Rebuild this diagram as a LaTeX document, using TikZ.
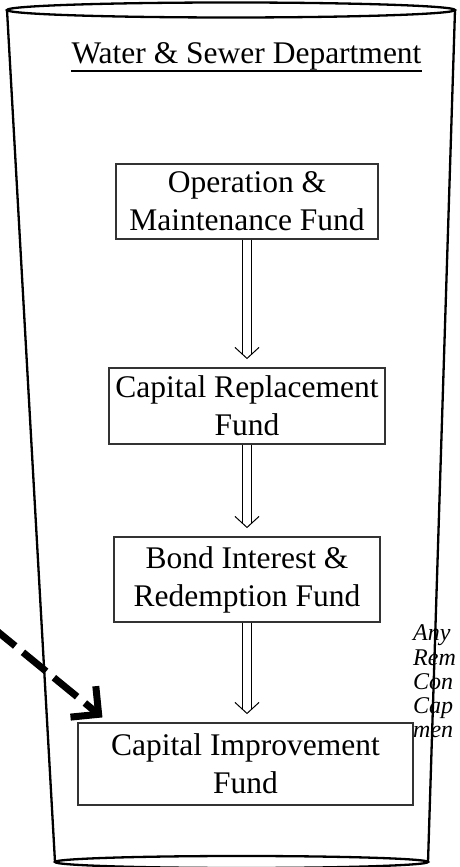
\documentclass[tikz,border=0pt]{standalone}
\usepackage{fontspec}
\setmainfont{Liberation Serif}
\usetikzlibrary{arrows.meta,calc,positioning}

\tikzset{
  fundbox/.style={draw=black!80, line width=1.1pt, minimum height=75pt, align=center,
    inner sep=0pt, font=\fontsize{31.5}{38}\selectfont},
  flowline/.style={line width=1pt},
  cupline/.style={line width=2.3pt},
}

\begin{document}
\begin{tikzpicture}[x=1pt, y=1pt]
    \useasboundingbox (0,0) rectangle (459,867);

    % Cup outline
    \draw[cupline] (231,857) ellipse [x radius=224, y radius=7.5];
    \draw[cupline] (7,857) -- (55,5);
    \draw[cupline] (455,857) -- (428,5);
    \draw[cupline] (241.5,5) ellipse [x radius=186.5, y radius=6];

    % Title
    \node[inner sep=0pt, anchor=base, font=\fontsize{31.5}{38}\selectfont] (title) at (246.5,803) {Water \& Sewer Department};
    \draw[line width=1.4pt] (title.south west) -- (title.south east);

    % Funds
    \node[fundbox, minimum width=262] (om) at (247,665.5) {Operation \&\\Maintenance Fund};
    \node[fundbox, minimum width=276, minimum height=76] (cr) at (247,461) {Capital Replacement\\Fund};
    \node[fundbox, minimum width=266, minimum height=85] (bi) at (247,287.5) {Bond Interest \&\\Redemption Fund};
    \node[fundbox, minimum width=335, minimum height=82] (ci) at (245.5,103) {Capital Improvement\\Fund};

    % Flow between funds
    \foreach \a/\b in {om/cr, cr/bi, bi/ci} {
        \draw[flowline] ($(\a.south)+(-4.5,0)$) -- ($(\a.south |- \b.north)+(-4.5,13)$);
        \draw[flowline] ($(\a.south)+(4.5,0)$) -- ($(\a.south |- \b.north)+(4.5,13)$);
        \draw[flowline] ($(\a.south |- \b.north)+(-12,20)$) -- ($(\a.south |- \b.north)+(0,9)$) -- ($(\a.south |- \b.north)+(12,20)$);
    }

    % Transfer into capital improvement
    \coordinate (feed) at (-8,240);
    \draw[line width=7pt, dash pattern=on 30pt off 10pt, -{Straight Barb[length=20pt, width=40pt, sharp]}] (feed) -- ($(ci.north west)+(25,5)$);

    % Note, cut off at the right
    \node[anchor=base west, align=left, inner sep=0pt, font=\fontsize{24}{24.3}\selectfont\itshape] (note) at (413,129) {Any\\Rem\\Con\\Cap\\men};
\end{tikzpicture}
\end{document}
